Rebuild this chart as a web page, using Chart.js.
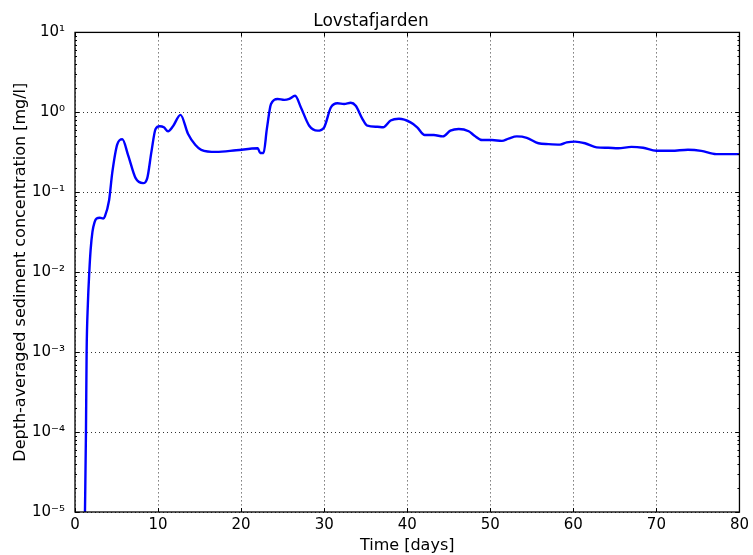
<!DOCTYPE html>
<html>
<head>
<meta charset="utf-8">
<script src="https://cdn.jsdelivr.net/npm/chart.js@4/dist/chart.umd.min.js"></script>
<style>
  html, body { margin: 0; padding: 0; background: #fff; }
  canvas { display: block; }
</style>
</head>
<body>
<canvas id="chart" width="753" height="555"></canvas>
<script>
// time in days and depth-averaged concentration (mg/l)
const days = [1.2, 1.32, 1.4, 1.55, 1.72, 1.88, 2.1, 2.35, 2.6, 3.0,
  3.4, 3.6, 4.1, 4.5, 5.1, 5.7, 6.4, 7.3, 8.2, 8.7,
  9.2, 9.7, 10.2, 10.7, 11.2, 11.8, 12.7, 13.6, 14.5, 15.2,
  17.0, 19.4, 22.0, 22.3, 22.7, 23.1, 23.6, 24.4, 25.2, 25.8,
  26.5, 27.2, 28.2, 29.2, 30.0, 30.8, 31.6, 32.4, 33.2, 33.8,
  34.6, 35.2, 36.4, 37.1, 38.0, 39.0, 40.4, 41.2, 42.1, 43.2,
  44.3, 45.2, 46.2, 47.4, 48.1, 49.0, 50.2, 51.4, 52.2, 53.2,
  54.4, 55.8, 57.0, 58.4, 59.2, 60.2, 61.4, 62.8, 64.2, 65.4,
  67.0, 68.4, 70.0, 71.8, 73.8, 75.4, 77.2, 80.0];
const conc = [1e-5, 1e-4, 1e-3, 0.004, 0.01, 0.019, 0.032, 0.042, 0.047, 0.048,
  0.047, 0.05, 0.079, 0.18, 0.40, 0.46, 0.29, 0.15, 0.13, 0.15,
  0.32, 0.62, 0.67, 0.65, 0.58, 0.67, 0.93, 0.54, 0.39, 0.34,
  0.32, 0.335, 0.355, 0.31, 0.31, 0.62, 1.27, 1.47, 1.43, 1.47,
  1.61, 1.15, 0.68, 0.59, 0.65, 1.15, 1.30, 1.27, 1.32, 1.21,
  0.83, 0.68, 0.66, 0.65, 0.79, 0.83, 0.75, 0.65, 0.52, 0.52,
  0.50, 0.59, 0.62, 0.58, 0.51, 0.45, 0.45, 0.44, 0.47, 0.50,
  0.48, 0.41, 0.40, 0.395, 0.42, 0.43, 0.41, 0.365, 0.36, 0.355,
  0.37, 0.36, 0.33, 0.33, 0.34, 0.33, 0.30, 0.30];

const xTicks = [0, 10, 20, 30, 40, 50, 60, 70, 80];
const yTicks = [1e-5, 1e-4, 1e-3, 1e-2, 1e-1, 1e0, 1e1];
const yTickLabels = ['10⁻⁵', '10⁻⁴', '10⁻³', '10⁻²', '10⁻¹', '10⁰', '10¹'];

const FONT = '"DejaVu Sans", sans-serif';

// box around the plot + inward major/minor ticks like matplotlib
const framePlugin = {
  id: 'frame',
  afterDraw(chart) {
    const { ctx, chartArea: a, scales: { x, y } } = chart;
    ctx.save();
    ctx.strokeStyle = '#000';
    ctx.lineWidth = 1;
    ctx.beginPath();
    xTicks.forEach(v => {
      const px = Math.round(x.getPixelForValue(v)) + 0.5;
      ctx.moveTo(px, a.bottom); ctx.lineTo(px, a.bottom - 4);
      ctx.moveTo(px, a.top); ctx.lineTo(px, a.top + 4);
    });
    yTicks.forEach(d => {
      for (let m = 1; m < 10; m++) {
        const v = d * m;
        if (v > yTicks[yTicks.length - 1] * 1.0001) break;
        const py = Math.round(y.getPixelForValue(v)) + 0.5;
        const len = m === 1 ? 4 : 2;
        ctx.moveTo(a.left, py); ctx.lineTo(a.left + len, py);
        ctx.moveTo(a.right, py); ctx.lineTo(a.right - len, py);
      }
    });
    ctx.stroke();
    ctx.lineWidth = 1.3;
    ctx.strokeRect(a.left, a.top, a.right - a.left, a.bottom - a.top);
    ctx.restore();
  }
};

new Chart(document.getElementById('chart').getContext('2d'), {
  type: 'line',
  data: {
    datasets: [{
      data: days.map((d, i) => ({ x: d, y: conc[i] })),
      borderColor: '#0000ff',
      borderWidth: 2.4,
      pointRadius: 0,
      fill: false,
      cubicInterpolationMode: 'monotone'
    }]
  },
  options: {
    responsive: false,
    animation: false,
    layout: { padding: { left: 0, right: 11, top: 0, bottom: 0 } },
    plugins: {
      legend: { display: false },
      tooltip: { enabled: false },
      title: {
        display: true,
        text: 'Lovstafjarden',
        color: '#000',
        font: { family: FONT, size: 17, weight: 'normal' },
        padding: { top: 11, bottom: 1 }
      }
    },
    scales: {
      x: {
        type: 'linear',
        min: 0,
        max: 80,
        afterBuildTicks: s => { s.ticks = xTicks.map(v => ({ value: v })); },
        afterFit: s => { s.height = 43; },
        grid: { color: '#000', lineWidth: 0.8, drawTicks: false },
        border: { display: false, dash: [1, 3] },
        ticks: {
          color: '#000',
          padding: 4,
          maxRotation: 0,
          font: { family: FONT, size: 15 }
        },
        title: {
          display: true,
          text: 'Time [days]',
          color: '#000',
          font: { family: FONT, size: 16 },
          padding: { top: 0, bottom: 0 }
        }
      },
      y: {
        type: 'logarithmic',
        min: 1e-5,
        max: 10,
        afterBuildTicks: s => { s.ticks = yTicks.map(v => ({ value: v })); },
        afterFit: s => { s.width = 75; },
        grid: { color: '#000', lineWidth: 0.8, drawTicks: false },
        border: { display: false, dash: [1, 3] },
        ticks: {
          color: '#000',
          padding: 10,
          font: { family: FONT, size: 15 },
          callback: v => {
            const i = yTicks.findIndex(t => Math.abs(t - v) / t < 1e-6);
            return i >= 0 ? yTickLabels[i] : '';
          }
        },
        title: {
          display: true,
          text: 'Depth-averaged sediment concentration [mg/l]',
          color: '#000',
          font: { family: FONT, size: 16 },
          padding: { top: 11, bottom: 0 }
        }
      }
    }
  },
  plugins: [framePlugin]
});
</script>
</body>
</html>
